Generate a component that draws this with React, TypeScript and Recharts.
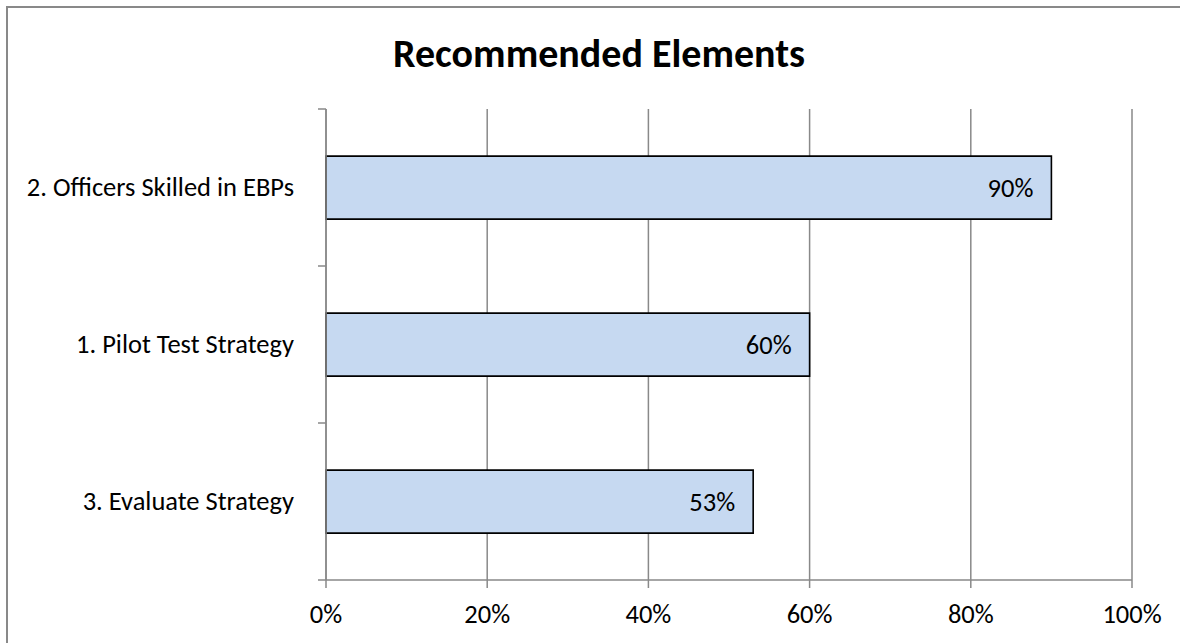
import React from 'react';
import { BarChart, Bar, XAxis, YAxis, CartesianGrid, LabelList } from 'recharts';

const categories = ['2. Officers Skilled in EBPs', '1. Pilot Test Strategy', '3. Evaluate Strategy'];
const values = [0.9, 0.6, 0.53];
const xTicks = [0, 0.2, 0.4, 0.6, 0.8, 1];

const data = categories.map((name, i) => ({ name, value: values[i] }));

const W = 1180;
const H = 643;
const MARGIN = { top: 109, right: 48, bottom: 0, left: 0 };
const Y_AXIS_W = 326;
const X_AXIS_H = 63;
const AXIS_X = MARGIN.left + Y_AXIS_W;
const BAND = (H - MARGIN.top - MARGIN.bottom - X_AXIS_H) / categories.length;

const FONT = 'Carlito, Calibri, Lato, sans-serif';
const FS = 26.5;
const GRAY = '#898989';

const CategoryTick = (props: any) => {
  const { y, payload, index } = props;
  const half = BAND / 2;
  return (
    <g>
      <line x1={AXIS_X - 8} x2={AXIS_X} y1={y - half} y2={y - half} stroke={GRAY} strokeWidth={1.5} />
      {index === categories.length - 1 && (
        <line x1={AXIS_X - 8} x2={AXIS_X} y1={y + half} y2={y + half} stroke={GRAY} strokeWidth={1.5} />
      )}
      <text x={AXIS_X - 32} y={y} dy="0.33em" textAnchor="end" fontFamily={FONT} fontSize={FS} fill="#000">
        {payload.value}
      </text>
    </g>
  );
};

export default function App() {
  return (
    <div style={{ position: 'absolute', left: 0, top: 0, width: W, height: H, overflow: 'hidden', background: '#fff' }}>
      <div
        style={{
          position: 'absolute', left: 6, top: 6, width: 1220, height: 700,
          border: `2px solid ${GRAY}`, boxSizing: 'border-box',
        }}
      />
      <div
        style={{
          position: 'absolute', left: 0, top: 34, width: 1198, textAlign: 'center',
          fontFamily: FONT, fontWeight: 700, fontSize: 40, lineHeight: 1, color: '#000',
        }}
      >
        Recommended Elements
      </div>
      <div style={{ position: 'absolute', left: 0, top: 0 }}>
        <BarChart width={W} height={H} data={data} layout="vertical" margin={MARGIN} barCategoryGap="30%">
          <CartesianGrid horizontal={false} vertical stroke={GRAY} strokeWidth={1.5} />
          <XAxis
            type="number"
            domain={[0, 1]}
            ticks={xTicks}
            height={X_AXIS_H}
            tickFormatter={(v: number) => `${Math.round(v * 100)}%`}
            tick={{ fontFamily: FONT, fontSize: FS, fill: '#000' }}
            tickSize={8}
            tickMargin={16}
            stroke={GRAY}
            strokeWidth={1.5}
            interval={0}
          />
          <YAxis
            type="category"
            dataKey="name"
            width={Y_AXIS_W}
            tick={<CategoryTick />}
            tickLine={false}
            stroke={GRAY}
            strokeWidth={1.5}
            interval={0}
          />
          <Bar dataKey="value" fill="#C6D9F1" stroke="#000" strokeWidth={1.6} isAnimationActive={false}>
            <LabelList
              dataKey="value"
              position="insideRight"
              offset={18}
              formatter={(v: any) => `${Math.round(Number(v) * 100)}%`}
              style={{ fontFamily: FONT, fontSize: FS, fill: '#000' }}
            />
          </Bar>
        </BarChart>
      </div>
    </div>
  );
}
